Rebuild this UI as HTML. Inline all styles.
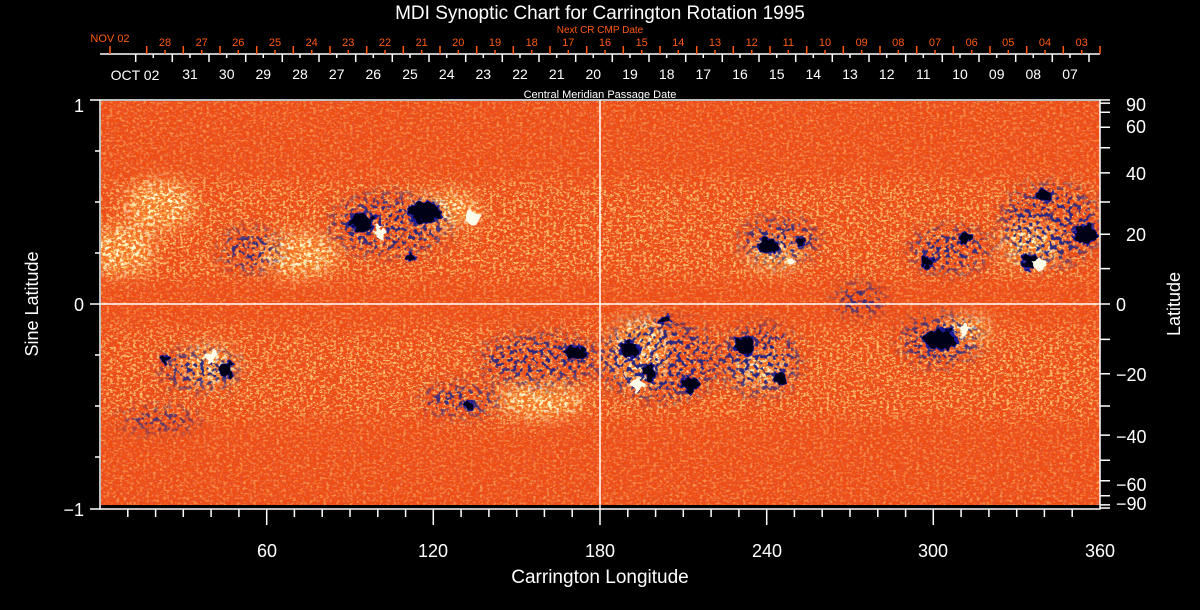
<!DOCTYPE html>
<html><head><meta charset="utf-8"><style>
html,body{margin:0;padding:0;background:#000;}
svg{display:block;}
text{font-family:"Liberation Sans",sans-serif;}
</style></head><body>
<svg width="1200" height="610" viewBox="0 0 1200 610" xmlns="http://www.w3.org/2000/svg">
<defs>
<filter id="yel" x="0" y="0" width="100%" height="100%">
 <feTurbulence type="fractalNoise" baseFrequency="0.3 0.45" numOctaves="2" seed="4" result="n"/>
 <feColorMatrix in="n" type="matrix" values="0 0 0 0 1  0 0 0 0 0.85  0 0 0 0 0.3  7 0 0 0 -4.1"/>
</filter>
<filter id="red" x="0" y="0" width="100%" height="100%">
 <feTurbulence type="fractalNoise" baseFrequency="0.25 0.5" numOctaves="2" seed="9" result="n"/>
 <feColorMatrix in="n" type="matrix" values="0 0 0 0 0.8  0 0 0 0 0.08  0 0 0 0 0.02  0 5 0 0 -2.1"/>
</filter>
<filter id="lite" x="0" y="0" width="100%" height="100%">
 <feTurbulence type="fractalNoise" baseFrequency="0.3 0.4" numOctaves="2" seed="21" result="n"/>
 <feColorMatrix in="n" type="matrix" values="0 0 0 0 1  0 0 0 0 0.55  0 0 0 0 0.15  0 0 6 0 -3.2"/>
</filter>
<filter id="wht" x="0" y="0" width="100%" height="100%">
 <feTurbulence type="fractalNoise" baseFrequency="0.25 0.3" numOctaves="2" seed="13" result="n"/>
 <feColorMatrix in="n" type="matrix" values="0 0 0 0 1  0 0 0 0 1  0 0 0 0 0.7  6 0 0 0 -3.0"/>
</filter>
<filter id="blue" x="0" y="0" width="100%" height="100%">
 <feTurbulence type="fractalNoise" baseFrequency="0.22 0.22" numOctaves="2" seed="31" result="n"/>
 <feColorMatrix in="n" type="matrix" values="0 0 0 0 0.02  0 0 0 0 0.02  0 0 0 0 0.22  0 8 0 0 -4.1"/>
</filter>
<filter id="blob" x="-50%" y="-50%" width="200%" height="200%">
 <feTurbulence type="fractalNoise" baseFrequency="0.15" numOctaves="2" seed="5" result="t"/>
 <feDisplacementMap in="SourceGraphic" in2="t" scale="12" xChannelSelector="R" yChannelSelector="G"/>
</filter>
<filter id="soft" x="-50%" y="-50%" width="200%" height="200%"><feGaussianBlur stdDeviation="8"/></filter>
<mask id="plm" maskUnits="userSpaceOnUse" x="100" y="100" width="1000" height="406">
 <g filter="url(#soft)" fill="#fff">
  <ellipse cx="120" cy="250" rx="35" ry="25"/>
  <ellipse cx="300" cy="255" rx="40" ry="22"/>
  <ellipse cx="445" cy="210" rx="35" ry="18"/>
  <ellipse cx="210" cy="365" rx="28" ry="20"/>
  <ellipse cx="640" cy="350" rx="30" ry="35"/>
  <ellipse cx="775" cy="255" rx="28" ry="16"/>
  <ellipse cx="1030" cy="245" rx="30" ry="22"/>
  <ellipse cx="965" cy="330" rx="28" ry="16"/>
  <ellipse cx="540" cy="400" rx="45" ry="18"/>
  <ellipse cx="760" cy="370" rx="28" ry="16"/>
  <ellipse cx="160" cy="205" rx="35" ry="25"/>
 </g>
</mask>
<mask id="bandm" maskUnits="userSpaceOnUse" x="100" y="100" width="1000" height="406">
 <g filter="url(#soft)" fill="#fff" opacity="0.7">
  <rect x="100" y="180" width="1000" height="100"/>
  <rect x="100" y="328" width="1000" height="90"/>
  <polygon points="440,430 560,420 620,320 560,320"/>
 </g>
</mask>
<mask id="negm" maskUnits="userSpaceOnUse" x="100" y="100" width="1000" height="406">
 <g filter="url(#soft)" fill="#fff">
  <ellipse cx="390" cy="225" rx="60" ry="30"/>
  <ellipse cx="250" cy="250" rx="30" ry="20"/>
  <ellipse cx="200" cy="370" rx="40" ry="20"/>
  <ellipse cx="540" cy="360" rx="60" ry="25"/>
  <ellipse cx="660" cy="360" rx="60" ry="40"/>
  <ellipse cx="760" cy="360" rx="40" ry="35"/>
  <ellipse cx="780" cy="240" rx="40" ry="22"/>
  <ellipse cx="950" cy="250" rx="40" ry="22"/>
  <ellipse cx="1050" cy="225" rx="50" ry="40"/>
  <ellipse cx="940" cy="340" rx="40" ry="25"/>
  <ellipse cx="860" cy="300" rx="25" ry="15"/>
  <ellipse cx="460" cy="400" rx="40" ry="15"/>
  <ellipse cx="160" cy="420" rx="40" ry="10"/>
 </g>
</mask>
<clipPath id="pc"><rect x="101" y="101" width="999" height="404"/></clipPath>
</defs>

<g clip-path="url(#pc)">
 <rect x="100" y="100" width="1000" height="406" fill="#f04c10"/>
 <rect x="100" y="100" width="1000" height="406" filter="url(#red)"/>
 <rect x="100" y="100" width="1000" height="406" filter="url(#lite)" opacity="0.45"/>
 <rect x="100" y="100" width="1000" height="406" filter="url(#yel)" opacity="0.25"/>
 <g mask="url(#bandm)">
  <rect x="100" y="100" width="1000" height="406" filter="url(#yel)"/>
  <rect x="100" y="100" width="1000" height="406" filter="url(#lite)" opacity="0.8"/>
 </g>
 <g mask="url(#plm)">
  <rect x="100" y="100" width="1000" height="406" fill="#ffa030" opacity="0.45"/>
  <rect x="100" y="100" width="1000" height="406" filter="url(#wht)"/>
  <rect x="100" y="100" width="1000" height="406" filter="url(#yel)"/>
 </g>
 <g mask="url(#negm)"><rect x="100" y="100" width="1000" height="406" filter="url(#blue)"/></g>
 <g filter="url(#blob)" fill="#000014" stroke="#1a1a9a" stroke-width="1.5">
  <ellipse cx="362" cy="222" rx="12" ry="9"/>
  <ellipse cx="425" cy="212" rx="16" ry="11"/>
  <ellipse cx="410" cy="258" rx="5" ry="4"/>
  <ellipse cx="226" cy="370" rx="6" ry="8"/>
  <ellipse cx="165" cy="360" rx="3" ry="5"/>
  <ellipse cx="575" cy="352" rx="12" ry="6"/>
  <ellipse cx="630" cy="350" rx="10" ry="9"/>
  <ellipse cx="650" cy="372" rx="7" ry="8"/>
  <ellipse cx="690" cy="385" rx="9" ry="8"/>
  <ellipse cx="745" cy="345" rx="10" ry="9"/>
  <ellipse cx="780" cy="378" rx="6" ry="6"/>
  <ellipse cx="768" cy="245" rx="10" ry="8"/>
  <ellipse cx="800" cy="242" rx="5" ry="5"/>
  <ellipse cx="928" cy="262" rx="6" ry="6"/>
  <ellipse cx="965" cy="238" rx="6" ry="6"/>
  <ellipse cx="1030" cy="262" rx="8" ry="8"/>
  <ellipse cx="1085" cy="235" rx="12" ry="10"/>
  <ellipse cx="1045" cy="195" rx="8" ry="6"/>
  <ellipse cx="940" cy="340" rx="16" ry="11"/>
  <ellipse cx="665" cy="320" rx="5" ry="4"/>
  <ellipse cx="470" cy="405" rx="5" ry="4"/>
 </g>
 <g fill="#fffde8" filter="url(#blob)">
  <circle cx="380" cy="232" r="6"/>
  <circle cx="472" cy="218" r="7"/>
  <circle cx="1040" cy="264" r="6"/>
  <circle cx="638" cy="385" r="6"/>
  <circle cx="790" cy="262" r="4"/>
  <circle cx="965" cy="328" r="5"/>
  <circle cx="212" cy="356" r="5"/>
 </g>
</g>

<g stroke="#fff" stroke-width="1.5" fill="none">
 <rect x="100" y="100" width="1000" height="409"/>
 <line x1="600" y1="100" x2="600" y2="509"/>
 <line x1="100" y1="304" x2="1100" y2="304"/>
 <path d="M90 100H100M90 304H100M90 509H100M95 151H100M95 202H100M95 253H100M95 355H100M95 406H100M95 457H100"/>
 <line x1="100" y1="54" x2="1100" y2="54"/>
 <path d="M127.8 509v8M155.6 509v8M183.3 509v8M211.1 509v8M238.9 509v8M266.7 509v16M294.4 509v8M322.2 509v8M350 509v8M377.8 509v8M405.6 509v8M433.3 509v16M461.1 509v8M488.9 509v8M516.7 509v8M544.4 509v8M572.2 509v8M600 509v16M627.8 509v8M655.6 509v8M683.3 509v8M711.1 509v8M738.9 509v8M766.7 509v16M794.4 509v8M822.2 509v8M850 509v8M877.8 509v8M905.6 509v8M933.3 509v16M961.1 509v8M988.9 509v8M1016.7 509v8M1044.4 509v8M1072.2 509v8"/>
 <path d="M1100 100h10M1100 103.1h10M1100 112.3h10M1100 127.3h10M1100 147.7h10M1100 172.9h10M1100 202h10M1100 234.2h10M1100 268.6h10M1100 304h10M1100 339.4h10M1100 373.8h10M1100 406h10M1100 435.1h10M1100 460.3h10M1100 480.7h10M1100 495.7h10M1100 504.9h10M1100 508h10"/>
 <path d="M1089 54v8M1052.3 54v8M1015.7 54v8M979 54v8M942.3 54v8M905.7 54v8M869 54v8M832.3 54v8M795.7 54v8M759 54v8M722.3 54v8M685.7 54v8M649 54v8M612.3 54v8M575.7 54v8M539 54v8M502.3 54v8M465.7 54v8M429 54v8M392.3 54v8M355.7 54v8M319 54v8M282.3 54v8M245.7 54v8M209 54v8M172.3 54v8M135.7 54v8M1070 54v4M1033.3 54v4M996.7 54v4M960 54v4M923.3 54v4M886.7 54v4M850 54v4M813.3 54v4M776.7 54v4M740 54v4M703.3 54v4M666.7 54v4M630 54v4M593.3 54v4M556.7 54v4M520 54v4M483.3 54v4M446.7 54v4M410 54v4M373.3 54v4M336.7 54v4M300 54v4M263.3 54v4M226.7 54v4M190 54v4M153.3 54v4"/>
</g>
<g stroke="#ff5a14" stroke-width="1.5" fill="none">
 <path d="M1100 46v8M1063.3 46v8M1026.7 46v8M990 46v8M953.3 46v8M916.7 46v8M880 46v8M843.3 46v8M806.7 46v8M770 46v8M733.3 46v8M696.7 46v8M660 46v8M623.3 46v8M586.7 46v8M550 46v8M513.3 46v8M476.7 46v8M440 46v8M403.3 46v8M366.7 46v8M330 46v8M293.3 46v8M256.7 46v8M220 46v8M183.3 46v8M146.7 46v8M110 46v8M1081.7 50v4M1045 50v4M1008.3 50v4M971.7 50v4M935 50v4M898.3 50v4M861.7 50v4M825 50v4M788.3 50v4M751.7 50v4M715 50v4M678.3 50v4M641.7 50v4M605 50v4M568.3 50v4M531.7 50v4M495 50v4M458.3 50v4M421.7 50v4M385 50v4M348.3 50v4M311.7 50v4M275 50v4M238.3 50v4M201.7 50v4M165 50v4"/>
</g>

<text x="600" y="19" fill="#fff" font-size="19" text-anchor="middle">MDI Synoptic Chart for Carrington Rotation 1995</text>
<text x="600" y="33" fill="#ff5a14" font-size="10" text-anchor="middle">Next CR CMP Date</text>
<text x="110" y="42" fill="#ff5a14" font-size="11" text-anchor="middle">NOV 02</text>
<g fill="#ff5a14" font-size="11" text-anchor="middle">
 <text x="1081.7" y="46">03</text><text x="1045" y="46">04</text><text x="1008.3" y="46">05</text><text x="971.7" y="46">06</text><text x="935" y="46">07</text><text x="898.3" y="46">08</text><text x="861.7" y="46">09</text><text x="825" y="46">10</text><text x="788.3" y="46">11</text><text x="751.7" y="46">12</text><text x="715" y="46">13</text><text x="678.3" y="46">14</text><text x="641.7" y="46">15</text><text x="605" y="46">16</text><text x="568.3" y="46">17</text><text x="531.7" y="46">18</text><text x="495" y="46">19</text><text x="458.3" y="46">20</text><text x="421.7" y="46">21</text><text x="385" y="46">22</text><text x="348.3" y="46">23</text><text x="311.7" y="46">24</text><text x="275" y="46">25</text><text x="238.3" y="46">26</text><text x="201.7" y="46">27</text><text x="165" y="46">28</text>
</g>
<g fill="#fff" font-size="14" text-anchor="middle">
 <text x="135" y="80">OCT 02</text>
 <text x="1070" y="79">07</text><text x="1033.3" y="79">08</text><text x="996.7" y="79">09</text><text x="960" y="79">10</text><text x="923.3" y="79">11</text><text x="886.7" y="79">12</text><text x="850" y="79">13</text><text x="813.3" y="79">14</text><text x="776.7" y="79">15</text><text x="740" y="79">16</text><text x="703.3" y="79">17</text><text x="666.7" y="79">18</text><text x="630" y="79">19</text><text x="593.3" y="79">20</text><text x="556.7" y="79">21</text><text x="520" y="79">22</text><text x="483.3" y="79">23</text><text x="446.7" y="79">24</text><text x="410" y="79">25</text><text x="373.3" y="79">26</text><text x="336.7" y="79">27</text><text x="300" y="79">28</text><text x="263.3" y="79">29</text><text x="226.7" y="79">30</text><text x="190" y="79">31</text>
</g>
<text x="600" y="98" fill="#fff" font-size="11" text-anchor="middle">Central Meridian Passage Date</text>

<g fill="#fff" font-size="18" text-anchor="end">
 <text x="84" y="112">1</text>
 <text x="84" y="311">0</text>
 <text x="84" y="516">−1</text>
</g>
<text transform="translate(38,304) rotate(-90)" fill="#fff" font-size="18" text-anchor="middle">Sine Latitude</text>
<text transform="translate(1180,304) rotate(-90)" fill="#fff" font-size="18" text-anchor="middle">Latitude</text>
<g fill="#fff" font-size="18" text-anchor="middle">
 <text x="267" y="557">60</text><text x="433" y="557">120</text><text x="600" y="557">180</text>
 <text x="767" y="557">240</text><text x="933" y="557">300</text><text x="1100" y="557">360</text>
</g>
<text x="600" y="583" fill="#fff" font-size="19" text-anchor="middle">Carrington Longitude</text>
<g fill="#fff" font-size="18">
 <text x="1126" y="111">90</text><text x="1126" y="133">60</text><text x="1126" y="180">40</text>
 <text x="1126" y="241">20</text><text x="1116" y="311">0</text><text x="1116" y="381">−20</text>
 <text x="1116" y="443">−40</text><text x="1116" y="491">−60</text><text x="1116" y="510">−90</text>
</g>
</svg>
</body></html>
